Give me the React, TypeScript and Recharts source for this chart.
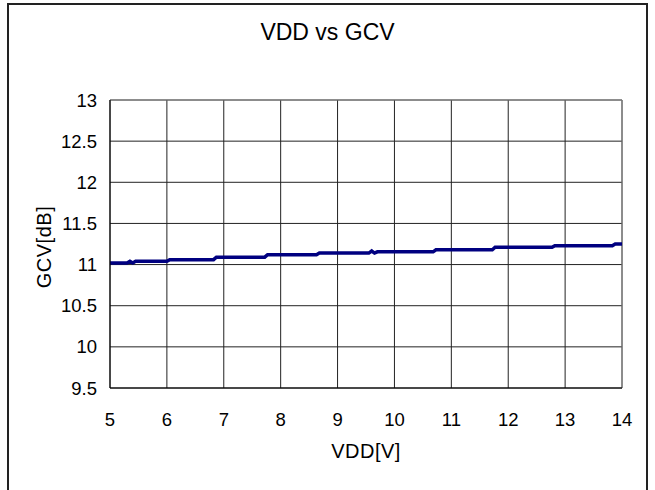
import { LineChart, Line, XAxis, YAxis, CartesianGrid, ReferenceLine } from 'recharts';

// VDD [V] sample points (staircase steps)
const vdd = [5, 5.3, 5.35, 5.4, 5.45, 6.0, 6.05, 6.82, 6.87, 7.72, 7.77, 8.63, 8.68, 9.55, 9.6, 9.65, 9.7, 10.68, 10.73, 11.72, 11.77, 12.77, 12.82, 13.83, 13.88, 14];
// GCV [dB]
const gcv = [11.02, 11.02, 11.04, 11.02, 11.04, 11.04, 11.06, 11.06, 11.09, 11.09, 11.12, 11.12, 11.14, 11.14, 11.165, 11.14, 11.155, 11.155, 11.18, 11.18, 11.21, 11.21, 11.23, 11.23, 11.25, 11.25];

const xTicks = [5, 6, 7, 8, 9, 10, 11, 12, 13, 14];
const yTicks = [9.5, 10, 10.5, 11, 11.5, 12, 12.5, 13];

const data = vdd.map((v, i) => ({ vdd: v, gcv: gcv[i] }));

const font = '"Liberation Sans", Arial, sans-serif';
const tickStyle = { fontSize: 18.5, fill: '#000', fontFamily: font };

export default function App() {
  return (
    <div style={{ position: 'absolute', left: 0, top: 0, width: 655, height: 490, background: '#fff', overflow: 'hidden', fontFamily: font }}>
      <div style={{ position: 'absolute', left: 7, top: 3, width: 637, height: 520, border: '2px solid #222' }} />
      <div style={{ position: 'absolute', left: 0, width: 655, top: 19, textAlign: 'center', fontSize: 23, color: '#000' }}>
        VDD vs GCV
      </div>
      <div style={{ position: 'absolute', left: 366 - 60, width: 120, top: 440, textAlign: 'center', fontSize: 20, color: '#000', letterSpacing: 0.5 }}>
        VDD[V]
      </div>
      <div style={{ position: 'absolute', left: 44 - 60, top: 247 - 12, width: 120, height: 24, lineHeight: '24px', textAlign: 'center', fontSize: 20, color: '#000', transform: 'rotate(-90deg)', letterSpacing: 0.5 }}>
        GCV[dB]
      </div>
      <div style={{ position: 'absolute', left: 0, top: 0 }}>
        <LineChart width={655} height={490} data={data} margin={{ top: 100, right: 33, bottom: 72, left: 0 }}>
          <CartesianGrid stroke="#222" strokeWidth={1} />
          <XAxis
            dataKey="vdd"
            type="number"
            domain={[5, 14]}
            ticks={xTicks}
            tick={tickStyle}
            tickLine={false}
            tickSize={0}
            tickMargin={25}
            height={30}
            stroke="#000"
            allowDataOverflow
          />
          <YAxis
            type="number"
            domain={[9.5, 13]}
            ticks={yTicks}
            tick={tickStyle}
            tickLine={false}
            tickSize={0}
            tickMargin={13}
            width={110}
            stroke="#000"
            interval={0}
          />
          <ReferenceLine y={13} stroke="#888" />
          <ReferenceLine x={14} stroke="#888" />
          <Line
            type="linear"
            dataKey="gcv"
            stroke="#000080"
            strokeWidth={3.5}
            dot={false}
            isAnimationActive={false}
          />
        </LineChart>
      </div>
    </div>
  );
}
